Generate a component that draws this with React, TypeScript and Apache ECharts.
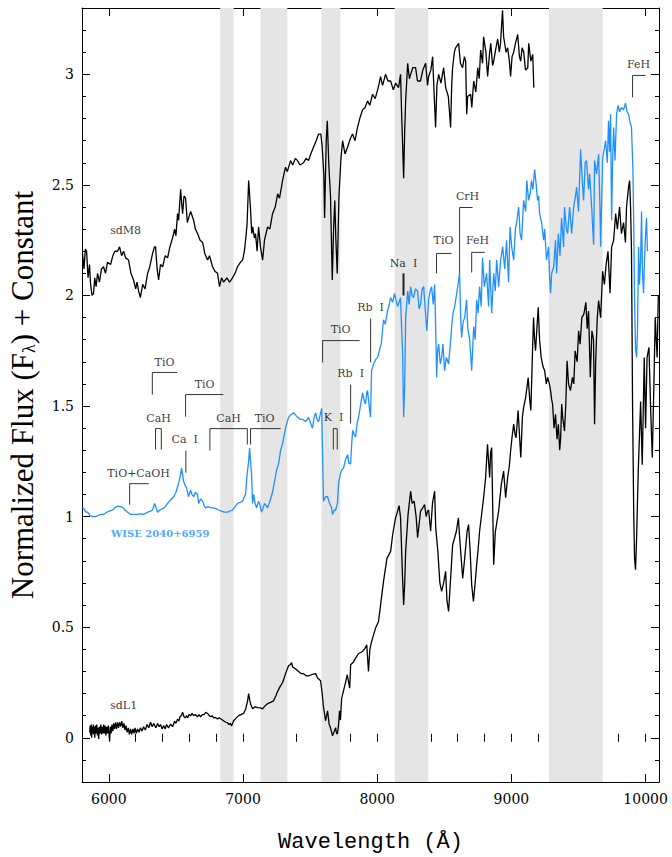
import React, { useEffect, useRef } from "react";
import * as echarts from "echarts";

const X_MIN = 5800;
const X_MAX = 10100;
const Y_MIN = -0.2;
const Y_MAX = 3.3;

const xMajorTicks = [6000, 7000, 8000, 9000, 10000];
const xMinorTicks = [5800, 6000, 6200, 6400, 6600, 6800, 7000, 7200, 7400, 7600, 7800, 8000, 8200, 8400, 8600, 8800, 9000, 9200, 9400, 9600, 9800, 10000];
const yMajorTicks = [0, 0.5, 1, 1.5, 2, 2.5, 3];
const yMinorTicks = [-0.2, -0.1, 0, 0.1, 0.2, 0.3, 0.4, 0.5, 0.6, 0.7, 0.8, 0.9, 1, 1.1, 1.2, 1.3, 1.4, 1.5, 1.6, 1.7, 1.8, 1.9, 2, 2.1, 2.2, 2.3, 2.4, 2.5, 2.6, 2.7, 2.8, 2.9, 3, 3.1, 3.2, 3.3];

// telluric bands (Å)
const tellurics: [number, number][] = [[6830, 6930], [7130, 7330], [7585, 7725], [8130, 8380], [9280, 9680]];

const sdM8: [number, number][] = [
  [5804, 2.19], [5815, 2.12], [5825, 2.21], [5834, 2.2], [5845, 2.08], [5856, 2.14], [5864, 2.05], [5875, 2.0], [5886, 2.01], [5895, 2.08],
  [5905, 2.04], [5916, 2.1], [5930, 2.06], [5945, 2.12], [5961, 2.13], [5975, 2.1], [5990, 2.15], [6013, 2.14], [6030, 2.18], [6045, 2.2],
  [6065, 2.2], [6080, 2.22], [6095, 2.18], [6110, 2.2], [6125, 2.17], [6147, 2.16], [6165, 2.1], [6184, 2.07], [6200, 2.03], [6210, 2.06],
  [6222, 2.02], [6235, 1.99], [6252, 2.05], [6270, 2.03], [6289, 2.1], [6305, 2.13], [6326, 2.19], [6340, 2.22], [6348, 2.22], [6360, 2.12],
  [6371, 2.07], [6385, 2.14], [6401, 2.13], [6420, 2.18], [6438, 2.17], [6455, 2.22], [6475, 2.26], [6490, 2.3], [6500, 2.27], [6512, 2.37],
  [6520, 2.34], [6535, 2.48], [6545, 2.4], [6550, 2.37], [6560, 2.45], [6572, 2.44], [6585, 2.33], [6594, 2.35], [6610, 2.38], [6632, 2.34],
  [6645, 2.3], [6661, 2.28], [6680, 2.25], [6699, 2.24], [6715, 2.19], [6736, 2.16], [6750, 2.18], [6773, 2.13], [6790, 2.11], [6810, 2.1],
  [6825, 2.04], [6840, 2.08], [6855, 2.06], [6880, 2.08], [6900, 2.06], [6922, 2.08], [6940, 2.1], [6959, 2.13], [6980, 2.15], [6997, 2.16],
  [7010, 2.2], [7019, 2.25], [7030, 2.32], [7042, 2.52], [7055, 2.4], [7065, 2.28], [7072, 2.31], [7085, 2.26], [7093, 2.28], [7105, 2.2],
  [7116, 2.31], [7130, 2.22], [7146, 2.16], [7160, 2.25], [7183, 2.31], [7200, 2.3], [7220, 2.37], [7240, 2.4], [7258, 2.46], [7272, 2.44],
  [7295, 2.52], [7305, 2.55], [7317, 2.58], [7330, 2.56], [7354, 2.61], [7370, 2.59], [7390, 2.62], [7406, 2.61], [7425, 2.59], [7451, 2.6],
  [7470, 2.62], [7488, 2.61], [7505, 2.64], [7525, 2.67], [7545, 2.7], [7563, 2.73], [7580, 2.73], [7590, 2.67], [7602, 2.55], [7608, 2.35],
  [7620, 2.7], [7628, 2.79], [7640, 2.58], [7652, 2.45], [7665, 2.07], [7675, 2.3], [7684, 2.43], [7692, 2.25], [7702, 2.1], [7715, 2.45],
  [7730, 2.62], [7742, 2.7], [7760, 2.64], [7779, 2.67], [7800, 2.71], [7816, 2.73], [7835, 2.7], [7853, 2.76], [7870, 2.8], [7891, 2.84],
  [7910, 2.85], [7928, 2.88], [7945, 2.86], [7965, 2.91], [7985, 2.89], [8003, 2.93], [8015, 2.96], [8025, 2.99], [8040, 2.95], [8062, 3.0],
  [8080, 2.97], [8100, 2.97], [8120, 2.93], [8137, 2.96], [8159, 2.94], [8174, 3.0], [8183, 2.8], [8189, 2.69], [8197, 2.53], [8205, 2.75],
  [8212, 2.88], [8227, 3.05], [8240, 2.98], [8249, 3.0], [8265, 3.03], [8286, 3.03], [8300, 2.97], [8323, 2.97], [8340, 3.02], [8361, 3.05],
  [8375, 2.95], [8383, 2.99], [8400, 3.02], [8413, 3.08], [8425, 2.9], [8435, 2.76], [8445, 2.95], [8458, 3.0], [8475, 2.96], [8495, 3.03],
  [8510, 2.94], [8530, 2.9], [8547, 2.76], [8555, 2.95], [8562, 3.03], [8575, 3.1], [8584, 3.12], [8607, 3.14], [8620, 3.05], [8636, 3.03],
  [8650, 3.08], [8659, 3.06], [8667, 2.82], [8674, 2.9], [8696, 2.91], [8705, 2.85], [8719, 2.97], [8735, 2.92], [8749, 3.03], [8760, 2.98],
  [8771, 3.11], [8785, 3.05], [8793, 3.17], [8810, 3.1], [8823, 2.99], [8835, 3.08], [8846, 3.14], [8860, 3.04], [8868, 3.06], [8885, 3.12],
  [8898, 3.16], [8910, 3.1], [8919, 3.14], [8934, 3.29], [8942, 3.17], [8960, 3.1], [8972, 3.12], [8985, 3.06], [8994, 2.99], [9005, 3.08],
  [9017, 3.1], [9030, 3.14], [9047, 3.18], [9060, 3.08], [9069, 3.06], [9080, 3.12], [9092, 3.1], [9105, 3.02], [9122, 3.03], [9129, 3.14],
  [9145, 3.06], [9159, 3.09], [9167, 2.94],
];

const wise2040: [number, number][] = [
  [5804, 1.04], [5815, 1.035], [5830, 1.02], [5842, 1.02], [5860, 1.005], [5880, 1.0], [5901, 1.0], [5920, 1.005], [5940, 1.01], [5961, 1.01],
  [5985, 1.02], [6005, 1.025], [6028, 1.03], [6045, 1.04], [6065, 1.047], [6085, 1.045], [6103, 1.042], [6120, 1.03], [6140, 1.02], [6162, 1.01],
  [6185, 1.01], [6214, 1.01], [6240, 1.012], [6259, 1.01], [6290, 1.02], [6311, 1.025], [6326, 1.03], [6341, 1.06], [6352, 1.04], [6363, 1.02],
  [6380, 1.03], [6401, 1.036], [6420, 1.045], [6438, 1.06], [6460, 1.075], [6483, 1.09], [6500, 1.11], [6520, 1.15], [6535, 1.19], [6542, 1.22],
  [6550, 1.19], [6557, 1.16], [6570, 1.14], [6579, 1.13], [6587, 1.11], [6594, 1.09], [6609, 1.12], [6620, 1.1], [6632, 1.09], [6645, 1.11],
  [6661, 1.1], [6669, 1.06], [6684, 1.08], [6699, 1.07], [6710, 1.05], [6721, 1.04], [6740, 1.045], [6758, 1.04], [6781, 1.04], [6800, 1.035],
  [6818, 1.03], [6840, 1.025], [6860, 1.02], [6885, 1.02], [6900, 1.025], [6922, 1.03], [6940, 1.045], [6959, 1.06], [6980, 1.065], [6997, 1.07],
  [7010, 1.09], [7019, 1.1], [7030, 1.19], [7042, 1.25], [7049, 1.31], [7056, 1.25], [7064, 1.19], [7071, 1.06], [7079, 1.1], [7090, 1.06],
  [7101, 1.04], [7116, 1.07], [7128, 1.05], [7138, 1.02], [7150, 1.04], [7161, 1.06], [7172, 1.05], [7183, 1.04], [7195, 1.06], [7205, 1.08],
  [7220, 1.11], [7235, 1.16], [7250, 1.21], [7265, 1.24], [7280, 1.3], [7295, 1.33], [7310, 1.38], [7325, 1.42], [7340, 1.45], [7355, 1.46],
  [7377, 1.47], [7390, 1.46], [7406, 1.45], [7425, 1.44], [7444, 1.44], [7466, 1.43], [7480, 1.44], [7488, 1.45], [7505, 1.42], [7518, 1.4],
  [7530, 1.45], [7541, 1.47], [7552, 1.44], [7563, 1.43], [7575, 1.46], [7586, 1.49], [7592, 1.3], [7600, 1.07], [7615, 1.09], [7630, 1.09],
  [7645, 1.06], [7660, 1.04], [7667, 1.01], [7680, 1.03], [7690, 1.03], [7704, 1.06], [7712, 1.15], [7725, 1.19], [7734, 1.21], [7749, 1.22],
  [7765, 1.26], [7779, 1.28], [7790, 1.24], [7802, 1.24], [7810, 1.33], [7817, 1.39], [7830, 1.37], [7839, 1.36], [7850, 1.42], [7861, 1.45],
  [7875, 1.5], [7891, 1.56], [7905, 1.52], [7913, 1.51], [7922, 1.56], [7928, 1.57], [7940, 1.5], [7950, 1.45], [7958, 1.66], [7973, 1.69],
  [7988, 1.71], [8003, 1.72], [8020, 1.76], [8030, 1.78], [8047, 1.89], [8060, 1.87], [8077, 1.93], [8090, 1.96], [8100, 1.99], [8115, 1.97],
  [8129, 2.01], [8140, 1.98], [8152, 1.95], [8163, 1.97], [8174, 1.99], [8182, 1.85], [8189, 1.75], [8197, 1.45], [8205, 1.6], [8212, 1.9],
  [8227, 2.02], [8238, 1.96], [8249, 2.04], [8260, 2.0], [8271, 1.99], [8285, 2.03], [8301, 2.02], [8312, 1.94], [8323, 1.96], [8335, 2.03],
  [8346, 2.04], [8360, 1.92], [8370, 1.84], [8383, 1.98], [8395, 2.02], [8405, 2.04], [8418, 1.96], [8428, 2.05], [8436, 1.85], [8443, 1.63],
  [8450, 1.75], [8458, 1.78], [8470, 1.69], [8480, 1.72], [8490, 1.78], [8502, 1.66], [8515, 1.72], [8532, 1.69], [8545, 1.78], [8555, 1.86],
  [8565, 1.92], [8577, 1.95], [8590, 2.0], [8607, 2.07], [8614, 2.1], [8622, 1.9], [8629, 1.81], [8640, 1.88], [8652, 1.9], [8666, 1.98],
  [8675, 1.85], [8689, 1.8], [8704, 1.66], [8719, 1.86], [8730, 1.8], [8741, 1.98], [8752, 1.92], [8763, 2.04], [8775, 1.95], [8785, 2.17],
  [8798, 2.04], [8815, 2.1], [8830, 1.95], [8838, 2.16], [8853, 1.92], [8868, 2.1], [8880, 2.02], [8890, 2.16], [8905, 2.04], [8920, 2.16],
  [8935, 2.22], [8950, 2.12], [8964, 2.25], [8979, 2.06], [8990, 2.31], [9002, 2.22], [9017, 2.16], [9030, 2.3], [9039, 2.33], [9054, 2.4],
  [9065, 2.28], [9076, 2.25], [9091, 2.43], [9106, 2.38], [9115, 2.52], [9128, 2.43], [9140, 2.46], [9150, 2.52], [9160, 2.48], [9173, 2.57],
  [9185, 2.5], [9195, 2.43], [9203, 2.45], [9210, 2.37], [9225, 2.33], [9240, 2.25], [9248, 2.3], [9262, 2.16], [9277, 2.22], [9285, 2.08],
  [9292, 2.01], [9300, 2.1], [9315, 2.13], [9329, 2.25], [9337, 2.1], [9350, 2.28], [9362, 2.18], [9374, 2.35], [9389, 2.22], [9396, 2.4],
  [9410, 2.3], [9419, 2.28], [9434, 2.4], [9449, 2.28], [9464, 2.4], [9478, 2.45], [9486, 2.49], [9500, 2.38], [9516, 2.66], [9530, 2.5],
  [9538, 2.43], [9550, 2.6], [9560, 2.61], [9575, 2.48], [9583, 2.55], [9598, 2.4], [9613, 2.23], [9620, 2.61], [9635, 2.55], [9650, 2.64],
  [9660, 2.4], [9665, 2.22], [9680, 2.62], [9702, 2.7], [9715, 2.6], [9724, 2.79], [9732, 2.65], [9739, 2.82], [9747, 2.34], [9754, 2.6],
  [9762, 2.76], [9772, 2.61], [9784, 2.82], [9795, 2.86], [9806, 2.83], [9820, 2.85], [9836, 2.84], [9850, 2.87], [9862, 2.83], [9873, 2.82],
  [9885, 2.78], [9895, 2.76], [9905, 2.58], [9912, 2.31], [9918, 1.98], [9925, 1.76], [9933, 1.72], [9940, 1.85], [9948, 2.22], [9955, 2.05],
  [9963, 2.16], [9970, 2.38], [9977, 2.1], [9985, 2.01], [9992, 2.16], [9999, 2.26], [10007, 2.35], [10014, 2.2],
];

const sdL1: [number, number][] = [
  [5857, 0.024], [5861, 0.055], [5865, 0.01], [5869, 0.06], [5872, 0.0], [5876, 0.05], [5880, 0.02], [5884, 0.06], [5888, 0.015], [5892, 0.05],
  [5895, 0.0], [5900, 0.055], [5905, 0.02], [5910, 0.06], [5915, 0.01], [5920, 0.045], [5924, -0.005], [5929, 0.05], [5935, 0.02], [5940, 0.06],
  [5945, 0.015], [5950, 0.05], [5956, 0.02], [5961, 0.06], [5967, 0.02], [5972, 0.055], [5978, 0.01], [5984, 0.05], [5990, 0.02], [5996, 0.055],
  [6002, 0.01], [6006, -0.014], [6011, 0.05], [6017, 0.02], [6023, 0.06], [6030, 0.03], [6036, 0.065], [6043, 0.04], [6050, 0.07], [6057, 0.04],
  [6065, 0.07], [6072, 0.045], [6080, 0.07], [6088, 0.05], [6096, 0.075], [6105, 0.045], [6113, 0.065], [6120, 0.035], [6128, 0.055], [6136, 0.025],
  [6145, 0.045], [6153, 0.015], [6162, 0.04], [6170, 0.015], [6180, 0.04], [6188, 0.02], [6195, 0.045], [6205, 0.02], [6214, 0.04], [6225, 0.025],
  [6235, 0.045], [6247, 0.03], [6259, 0.05], [6272, 0.035], [6285, 0.06], [6298, 0.045], [6311, 0.07], [6323, 0.05], [6335, 0.065], [6350, 0.045],
  [6363, 0.065], [6375, 0.05], [6385, 0.06], [6397, 0.04], [6408, 0.055], [6420, 0.04], [6430, 0.06], [6445, 0.045], [6460, 0.062], [6475, 0.05],
  [6490, 0.075], [6500, 0.065], [6512, 0.085], [6522, 0.075], [6530, 0.095], [6540, 0.1], [6550, 0.115], [6560, 0.095], [6570, 0.09], [6580, 0.1],
  [6587, 0.09], [6598, 0.105], [6610, 0.1], [6620, 0.11], [6632, 0.1], [6645, 0.105], [6660, 0.095], [6672, 0.105], [6684, 0.095], [6697, 0.105],
  [6710, 0.105], [6722, 0.115], [6736, 0.11], [6748, 0.1], [6760, 0.095], [6770, 0.1], [6781, 0.09], [6795, 0.092], [6810, 0.085], [6822, 0.09],
  [6833, 0.086], [6847, 0.08], [6860, 0.075], [6872, 0.07], [6885, 0.068], [6895, 0.06], [6905, 0.065], [6915, 0.054], [6930, 0.077], [6950, 0.09],
  [6967, 0.1], [6985, 0.105], [7004, 0.11], [7020, 0.13], [7034, 0.167], [7042, 0.2], [7050, 0.17], [7056, 0.154], [7071, 0.131], [7090, 0.14],
  [7109, 0.136], [7130, 0.135], [7146, 0.131], [7165, 0.145], [7183, 0.154], [7205, 0.16], [7228, 0.167], [7245, 0.19], [7258, 0.21], [7275, 0.23],
  [7295, 0.25], [7317, 0.29], [7339, 0.326], [7352, 0.33], [7362, 0.34], [7370, 0.32], [7377, 0.317], [7395, 0.31], [7414, 0.3], [7435, 0.29],
  [7451, 0.29], [7470, 0.28], [7488, 0.28], [7510, 0.285], [7541, 0.29], [7556, 0.27], [7578, 0.258], [7590, 0.2], [7600, 0.136], [7610, 0.1],
  [7615, 0.077], [7623, 0.1], [7630, 0.122], [7642, 0.06], [7652, 0.045], [7667, 0.009], [7680, 0.03], [7690, 0.045], [7697, 0.02], [7704, 0.018],
  [7712, 0.06], [7719, 0.122], [7726, 0.08], [7735, 0.178], [7760, 0.24], [7777, 0.285], [7795, 0.224], [7802, 0.33], [7820, 0.34], [7839, 0.36],
  [7860, 0.38], [7889, 0.39], [7905, 0.4], [7922, 0.42], [7935, 0.3], [7945, 0.4], [7958, 0.435], [7975, 0.47], [7988, 0.496], [8010, 0.526],
  [8025, 0.6], [8047, 0.707], [8060, 0.76], [8072, 0.81], [8100, 0.843], [8115, 0.918], [8137, 0.995], [8150, 1.02], [8163, 1.05], [8174, 0.995],
  [8189, 0.72], [8197, 0.6], [8205, 0.7], [8212, 0.843], [8230, 1.01], [8249, 1.115], [8260, 1.06], [8275, 1.07], [8290, 1.0], [8301, 0.905],
  [8315, 0.98], [8323, 1.025], [8340, 1.04], [8353, 1.054], [8365, 1.0], [8375, 1.025], [8383, 1.03], [8398, 0.934], [8412, 1.06], [8428, 1.115],
  [8436, 0.95], [8452, 0.843], [8467, 0.7], [8480, 0.662], [8495, 0.7], [8510, 0.753], [8520, 0.62], [8532, 0.571], [8545, 0.7], [8562, 0.873],
  [8575, 0.9], [8590, 0.934], [8605, 0.995], [8615, 0.9], [8637, 0.72], [8650, 0.8], [8670, 0.934], [8681, 0.964], [8692, 0.85], [8704, 0.692],
  [8717, 0.617], [8730, 0.7], [8741, 0.783], [8752, 0.85], [8763, 0.934], [8780, 1.02], [8793, 1.086], [8808, 1.177], [8822, 1.327], [8830, 1.25],
  [8838, 1.177], [8845, 1.29], [8853, 1.312], [8862, 1.0], [8868, 0.783], [8880, 0.93], [8905, 1.025], [8925, 1.146], [8942, 1.206], [8957, 1.086],
  [8972, 1.177], [8985, 1.23], [8994, 1.297], [9005, 1.36], [9017, 1.418], [9028, 1.37], [9035, 1.357], [9050, 1.48], [9062, 1.35], [9070, 1.267],
  [9082, 1.45], [9091, 1.493], [9106, 1.538], [9115, 1.58], [9125, 1.629], [9138, 1.52], [9145, 1.48], [9155, 1.7], [9165, 1.9], [9173, 1.8],
  [9180, 1.75], [9190, 1.85], [9200, 1.947], [9210, 1.8], [9222, 1.72], [9235, 1.68], [9248, 1.66], [9260, 1.6], [9270, 1.63], [9283, 1.6],
  [9292, 1.57], [9300, 1.53], [9307, 1.509], [9318, 1.4], [9329, 1.463], [9340, 1.35], [9350, 1.418], [9360, 1.3], [9367, 1.357], [9375, 1.509],
  [9382, 1.45], [9396, 1.387], [9405, 1.5], [9415, 1.705], [9426, 1.599], [9440, 1.57], [9455, 1.63], [9465, 1.6], [9475, 1.75], [9490, 1.7],
  [9501, 1.84], [9512, 1.78], [9525, 1.9], [9540, 1.916], [9555, 1.969], [9565, 1.85], [9575, 1.93], [9588, 1.63], [9600, 1.84], [9612, 1.8],
  [9620, 1.418], [9628, 1.7], [9640, 1.9], [9650, 1.977], [9665, 1.9], [9680, 2.11], [9693, 2.05], [9706, 2.14], [9720, 2.2], [9735, 2.01],
  [9747, 2.22], [9762, 2.25], [9777, 2.37], [9790, 2.3], [9806, 2.4], [9820, 2.28], [9836, 2.33], [9850, 2.24], [9858, 2.4], [9873, 2.49],
  [9881, 2.52], [9888, 2.4], [9895, 2.2], [9903, 1.5], [9912, 1.0], [9918, 0.81], [9925, 0.76], [9933, 0.9], [9945, 1.2], [9963, 1.52],
  [9975, 1.235], [9990, 1.72], [10000, 1.4], [10011, 1.72], [10025, 1.765], [10037, 1.5], [10050, 1.267], [10062, 1.6], [10072, 1.9], [10086, 1.72],
  [10095, 2.0],
];

// feature identifications: bracket polylines (Å, flux)
const featureBrackets: [number, number][][] = [
  [[10000, 2.995], [9903, 2.995], [9903, 2.896]],
  [[8711, 2.398], [8614, 2.398], [8614, 2.1]],
  [[8554, 2.19], [8442, 2.19], [8442, 2.1]],
  [[8801, 2.195], [8704, 2.195], [8704, 2.104]],
  [[7869, 1.796], [7593, 1.796], [7593, 1.697]],
  [[7673, 1.303], [7673, 1.398], [7702, 1.398], [7702, 1.303]],
  [[6296, 1.149], [6155, 1.149], [6155, 1.054]],
  [[6348, 1.303], [6348, 1.398], [6391, 1.398], [6391, 1.303]],
  [[6510, 1.652], [6324, 1.652], [6324, 1.552]],
  [[6853, 1.552], [6572, 1.552], [6572, 1.452]],
  [[6753, 1.299], [6753, 1.398], [7032, 1.398], [7032, 1.326]],
  [[7280, 1.398], [7056, 1.398], [7056, 1.326]],
  [[7951, 1.896], [7951, 1.697]],
  [[7802, 1.597], [7802, 1.421]],
  [[6574, 1.299], [6574, 1.199]],
];
const naMarker: [number, number][] = [[8196, 2.1], [8196, 2.0]];

const featureLabels: [number, number, string][] = [
  [9947, 3.045, "FeH"],
  [8673, 2.448, "CrH"],
  [8494, 2.249, "TiO"],
  [8748, 2.249, "FeH"],
  [8196, 2.145, "Na  I"],
  [7951, 1.946, "Rb  I"],
  [7727, 1.846, "TiO"],
  [7802, 1.647, "Rb  I"],
  [7675, 1.448, "K  I"],
  [6222, 1.195, "TiO+CaOH"],
  [6371, 1.443, "CaH"],
  [6415, 1.697, "TiO"],
  [6714, 1.597, "TiO"],
  [6565, 1.348, "Ca  I"],
  [6892, 1.443, "CaH"],
  [7161, 1.443, "TiO"],
];
const spectrumNames: [number, number, string][] = [
  [6006, 2.294, "sdM8"],
  [6006, 0.145, "sdL1"],
];
const blueName: [number, number, string][] = [[6013, 0.923, "WISE 2040+6959"]];

const SERIF = "'DejaVu Serif', 'Liberation Serif', serif";
const BLUE = "#2090ff";

function baseAxis(extra: any) {
  return {
    type: "value",
    splitLine: { show: false },
    axisLine: { show: false },
    axisLabel: { show: false },
    axisTick: { show: false },
    ...extra,
  };
}

export default function App() {
  const ref = useRef<HTMLDivElement>(null);

  useEffect(() => {
    document.body.style.margin = "0";
    document.body.style.overflow = "hidden";
    if (!ref.current) return;
    const chart = echarts.init(ref.current, null, { renderer: "svg" });

    const xRange = { min: X_MIN, max: X_MAX };
    const yRange = { min: Y_MIN, max: Y_MAX };
    const tickStyle = { color: "#000", width: 1 };

    const xAxis = [
      baseAxis({
        ...xRange,
        position: "bottom",
        axisLine: { show: true, onZero: false, lineStyle: { color: "#000", width: 1 } },
        axisTick: { show: true, inside: true, length: 8, customValues: xMajorTicks, lineStyle: tickStyle },
        axisLabel: {
          show: true,
          customValues: xMajorTicks,
          margin: 10,
          fontFamily: SERIF,
          fontSize: 14,
          color: "#000",
          formatter: (v: number) => String(v),
        },
        name: "Wavelength (Å)",
        nameLocation: "middle",
        nameGap: 49,
        nameTextStyle: { fontFamily: "'Liberation Mono', monospace", fontSize: 22, color: "#000" },
      }),
      baseAxis({
        ...xRange,
        position: "bottom",
        axisTick: { show: true, inside: true, length: 4, customValues: xMinorTicks, lineStyle: tickStyle },
      }),
      baseAxis({
        ...xRange,
        position: "top",
        axisLine: { show: true, onZero: false, lineStyle: { color: "#000", width: 1 } },
        axisTick: { show: true, inside: true, length: 8, customValues: xMajorTicks, lineStyle: tickStyle },
      }),
      baseAxis({
        ...xRange,
        position: "top",
        axisTick: { show: true, inside: true, length: 4, customValues: xMinorTicks, lineStyle: tickStyle },
      }),
    ];

    const yAxis = [
      baseAxis({
        ...yRange,
        position: "left",
        axisLine: { show: true, onZero: false, lineStyle: { color: "#000", width: 1 } },
        axisTick: { show: true, inside: true, length: 8, customValues: yMajorTicks, lineStyle: tickStyle },
        axisLabel: {
          show: true,
          customValues: yMajorTicks,
          margin: 8,
          fontFamily: SERIF,
          fontSize: 14,
          color: "#000",
          formatter: (v: number) => String(v),
        },
        name: "Normalized Flux (F{sub|λ}) + Constant",
        nameLocation: "middle",
        nameGap: 44,
        nameTextStyle: {
          fontFamily: "'Liberation Serif', serif",
          fontSize: 31,
          color: "#000",
          rich: {
            sub: { fontFamily: "'Liberation Serif', serif", fontSize: 18, color: "#000", verticalAlign: "bottom", padding: [14, 0, 0, 0] },
          },
        },
      }),
      baseAxis({
        ...yRange,
        position: "left",
        axisTick: { show: true, inside: true, length: 4, customValues: yMinorTicks, lineStyle: tickStyle },
      }),
      baseAxis({
        ...yRange,
        position: "right",
        axisLine: { show: true, onZero: false, lineStyle: { color: "#000", width: 1 } },
        axisTick: { show: true, inside: true, length: 8, customValues: yMajorTicks, lineStyle: tickStyle },
      }),
      baseAxis({
        ...yRange,
        position: "right",
        axisTick: { show: true, inside: true, length: 4, customValues: yMinorTicks, lineStyle: tickStyle },
      }),
    ];

    const spectrum = (name: string, data: [number, number][], color: string, width: number) => ({
      type: "line",
      name,
      data,
      symbol: "none",
      showSymbol: false,
      silent: true,
      lineStyle: { color, width },
      z: 3,
    });

    const bracketSeries = featureBrackets.map((poly) => ({
      type: "line",
      data: poly,
      symbol: "none",
      showSymbol: false,
      silent: true,
      lineStyle: { color: "#333", width: 1 },
      z: 4,
    }));

    const labelSeries = (items: [number, number, string][], position: string, color: string, fontSize: number, fontWeight: string) => ({
      type: "scatter",
      data: items.map((d) => ({ value: [d[0], d[1]], name: d[2] })),
      symbolSize: 1,
      silent: true,
      itemStyle: { color: "rgba(0,0,0,0)" },
      label: {
        show: true,
        position,
        distance: 0,
        formatter: "{b}",
        fontFamily: SERIF,
        fontSize,
        fontWeight,
        color,
      },
      z: 5,
    });

    chart.setOption({
      animation: false,
      backgroundColor: "#fff",
      grid: { left: 82, right: 13, top: 8, bottom: 75, containLabel: false, outerBoundsMode: "none" },
      xAxis,
      yAxis,
      series: [
        {
          type: "line",
          data: [],
          silent: true,
          z: 1,
          markArea: {
            silent: true,
            itemStyle: { color: "#e5e5e5" },
            data: tellurics.map(([a, b]) => [{ xAxis: a }, { xAxis: b }]),
          },
        },
        spectrum("sdL1", sdL1, "#000", 1.3),
        spectrum("sdM8", sdM8, "#000", 1.3),
        spectrum("WISE 2040+6959", wise2040, BLUE, 1.3),
        ...bracketSeries,
        {
          type: "line",
          data: naMarker,
          symbol: "none",
          showSymbol: false,
          silent: true,
          lineStyle: { color: "#222", width: 2 },
          z: 4,
        },
        labelSeries(featureLabels, "inside", "#000", 11, "normal"),
        labelSeries(spectrumNames, "right", "#000", 11, "normal"),
        labelSeries(blueName, "right", BLUE, 10, "bold"),
      ],
    });

    return () => chart.dispose();
  }, []);

  return <div ref={ref} style={{ width: 672, height: 857 }} />;
}
